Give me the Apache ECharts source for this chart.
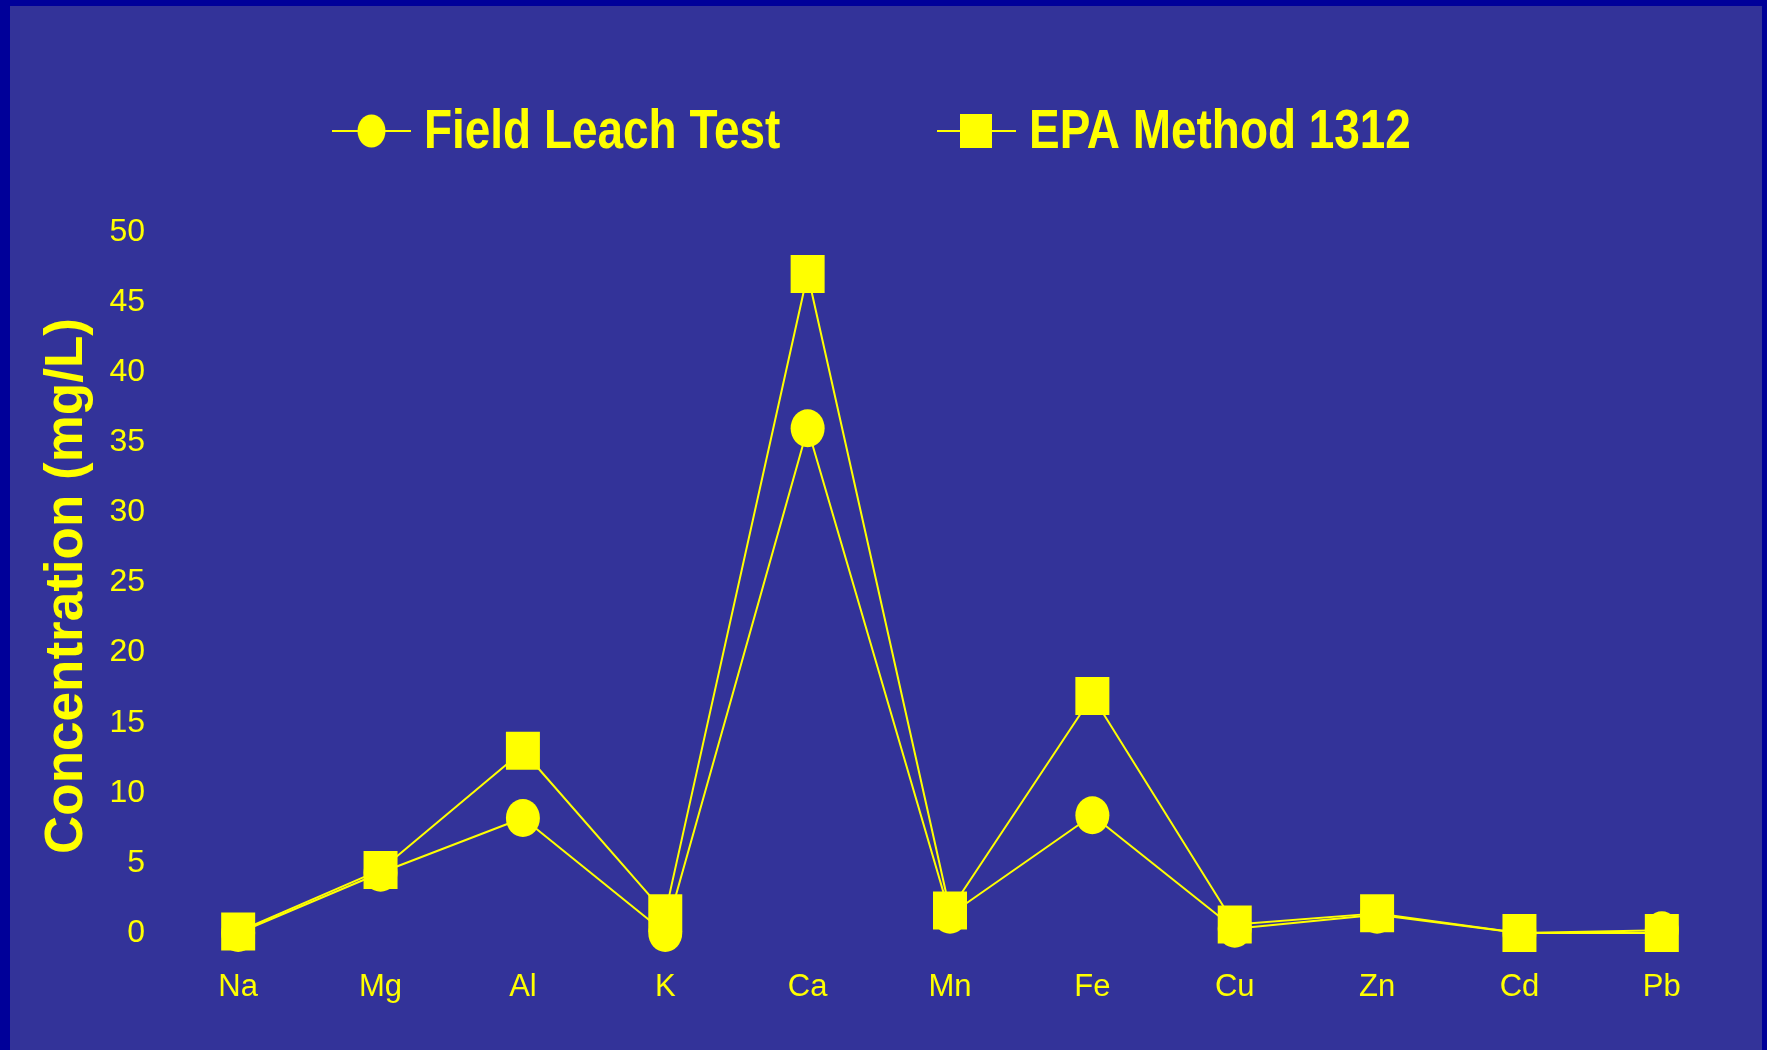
<!DOCTYPE html>
<html>
<head>
<meta charset="utf-8">
<script src="https://cdn.jsdelivr.net/npm/echarts@6/dist/echarts.min.js"></script>
<style>
  html, body { margin: 0; padding: 0; background: #333399; }
  #chart { width: 1767px; height: 1050px; }
</style>
</head>
<body>
<div id="chart"></div>
<script>
// ---- data ----
const categories = ['Na', 'Mg', 'Al', 'K', 'Ca', 'Mn', 'Fe', 'Cu', 'Zn', 'Cd', 'Pb'];
const fieldLeach = [0, 4.3, 8.2, 0, 36, 1.3, 8.4, 0.3, 1.3, 0, 0.2];
const epa1312 = [0.1, 4.5, 13, 1.4, 47, 1.6, 16.9, 0.6, 1.4, 0, 0];
const seriesNames = ['Field Leach Test', 'EPA Method 1312'];
const yAxisTitle = 'Concentration (mg/L)';

const YELLOW = '#ffff00';
const FONT = '"Liberation Sans", Arial, sans-serif';
const ELLIPSE = 'path://M0,50 A50,50 0 1,0 100,50 A50,50 0 1,0 0,50 Z';

// legend drawn as graphic so its text can be horizontally condensed (Arial Narrow look)
function legendItem(x, name, marker) {
  const cy = 131;
  return {
    type: 'group',
    children: [
      { type: 'line', shape: { x1: x, y1: cy, x2: x + 79, y2: cy }, style: { stroke: YELLOW, lineWidth: 2 } },
      marker,
      {
        type: 'text',
        x: x + 92, y: 133, scaleX: 0.82,
        style: { text: name, fill: YELLOW, font: 'bold 56px ' + FONT, align: 'left', verticalAlign: 'middle' }
      }
    ]
  };
}

const chart = echarts.init(document.getElementById('chart'));
chart.setOption({
  backgroundColor: '#333399',
  animation: false,
  graphic: [
    { type: 'rect', left: 0, top: 0, shape: { width: 1767, height: 6 }, style: { fill: '#000099' }, z: 0 },
    { type: 'rect', left: 0, top: 0, shape: { width: 10, height: 1050 }, style: { fill: '#000099' }, z: 0 },
    { type: 'rect', right: 0, top: 0, shape: { width: 5, height: 1050 }, style: { fill: '#000099' }, z: 0 },
    legendItem(332, seriesNames[0],
      { type: 'ellipse', shape: { cx: 371.5, cy: 131, rx: 14, ry: 16.5 }, style: { fill: YELLOW } }),
    legendItem(937, seriesNames[1],
      { type: 'rect', shape: { x: 960, y: 114, width: 32, height: 34 }, style: { fill: YELLOW } })
  ],
  legend: { show: false, data: seriesNames },
  grid: { left: 167, right: 34, top: 232, bottom: 117, containLabel: false },
  xAxis: {
    type: 'category',
    data: categories,
    boundaryGap: true,
    axisLine: { show: false },
    axisTick: { show: false },
    splitLine: { show: false },
    axisLabel: { color: YELLOW, fontFamily: FONT, fontSize: 31, margin: 39 }
  },
  yAxis: {
    type: 'value',
    min: 0,
    max: 50,
    interval: 5,
    axisLine: { show: false },
    axisTick: { show: false },
    splitLine: { show: false },
    axisLabel: { color: YELLOW, fontFamily: FONT, fontSize: 32, margin: 22 },
    name: yAxisTitle,
    nameLocation: 'middle',
    nameGap: 73,
    nameTextStyle: { color: YELLOW, fontFamily: FONT, fontWeight: 'bold', fontSize: 53, padding: [0, 7, 0, 0] }
  },
  series: [
    {
      name: seriesNames[0],
      type: 'line',
      data: fieldLeach,
      symbol: ELLIPSE,
      symbolSize: [34, 38],
      symbolKeepAspect: false,
      showAllSymbol: true,
      itemStyle: { color: YELLOW },
      lineStyle: { color: YELLOW, width: 2 }
    },
    {
      name: seriesNames[1],
      type: 'line',
      data: epa1312,
      symbol: 'rect',
      symbolSize: [34, 38],
      showAllSymbol: true,
      itemStyle: { color: YELLOW },
      lineStyle: { color: YELLOW, width: 2 }
    }
  ]
});
</script>
</body>
</html>
